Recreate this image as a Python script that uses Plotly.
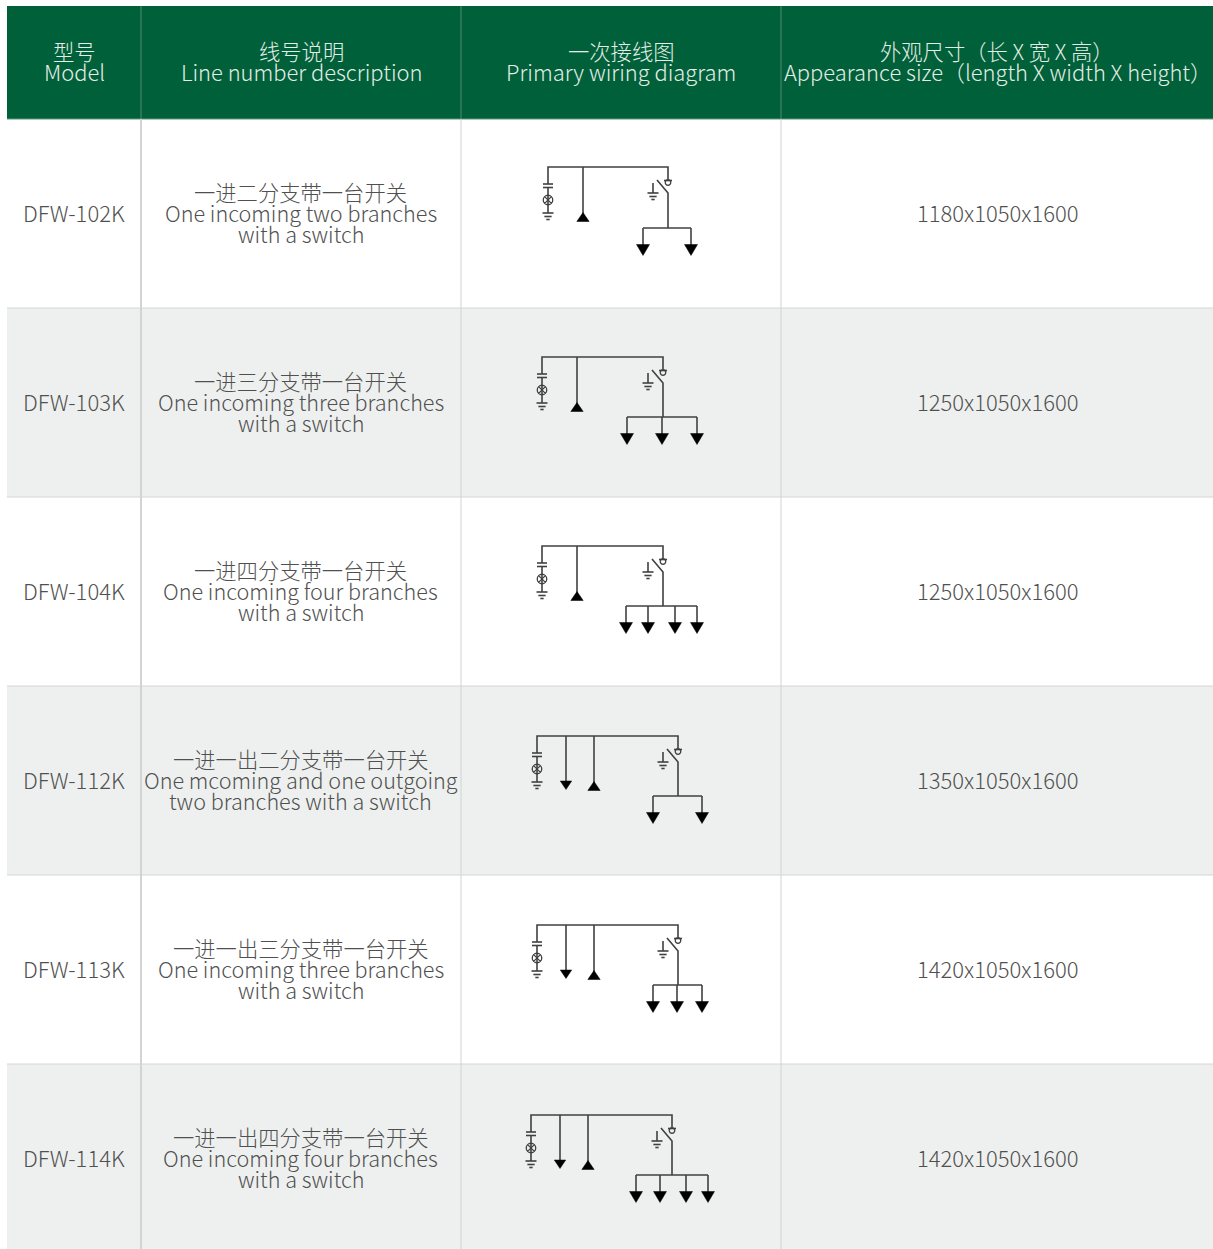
import plotly.graph_objects as go

# ---- table content ----
HEADERS_ZH = ["型号", "线号说明", "一次接线图", "外观尺寸（长 X 宽 X 高）"]
HEADERS_EN = ["Model", "Line number description", "Primary wiring diagram",
              "Appearance size（length X width X height）"]
MODELS = ["DFW-102K", "DFW-103K", "DFW-104K", "DFW-112K", "DFW-113K", "DFW-114K"]
DESC_ZH = ["一进二分支带一台开关", "一进三分支带一台开关", "一进四分支带一台开关",
           "一进一出二分支带一台开关", "一进一出三分支带一台开关", "一进一出四分支带一台开关"]
DESC_EN1 = ["One incoming two branches", "One incoming three branches", "One incoming four branches",
            "One mcoming and one outgoing", "One incoming three branches", "One incoming four branches"]
DESC_EN2 = ["with a switch", "with a switch", "with a switch",
            "two branches with a switch", "with a switch", "with a switch"]
SIZES = ["1180x1050x1600", "1250x1050x1600", "1250x1050x1600",
         "1350x1050x1600", "1420x1050x1600", "1420x1050x1600"]

# ---- wiring diagrams, one entry per row ----
BUS_Y = [167, 357, 546, 736, 925, 1115]
BUS_LEFT = [548, 542, 542, 537, 537, 531]
BUS_RIGHT = [668, 663, 663, 678, 678, 672]
FEED_UP = [583, 577, 577, 594, 594, 588]
FEED_DOWN = [None, None, None, 566, 566, 560]
BRANCH_Y = [228, 417, 606, 796, 985, 1175]
BRANCHES = [[643, 691], [627, 662, 697], [626, 648, 675, 697],
            [653, 702], [653, 677, 702], [636, 660, 686, 708]]

# ---- layout ----
W, H = 1213, 1249
COL_X = [7, 141, 461, 781, 1213]
ROW_Y = [119, 308, 497, 686, 875, 1064, 1249]
ROW_TEXT_Y = [212.5, 401.5, 590.5, 779.5, 968.5, 1157.5]
HEAD_TOP = 6
GREEN, GREY, INK, TEXT = "#006039", "#eef0ef", "#404040", "#505050"
FONT = "Noto Sans CJK SC Light, Noto Sans CJK SC"
FS_EN, FS_BODY, FS_HEAD, FS_ZH = 22, 21.6, 21.9, 21.3

fig = go.Figure()
shapes, ann = [], []

def rect(x0, y0, x1, y1, color):
    shapes.append(dict(type="rect", x0=x0, y0=y0, x1=x1, y1=y1, fillcolor=color,
                       line_width=0, layer="below"))

def rule(x0, y0, x1, y1, color, w=1):
    shapes.append(dict(type="line", x0=x0, y0=y0, x1=x1, y1=y1, line=dict(color=color, width=w), layer="below"))

def label(x, y, s, color=TEXT, size=FS_EN):
    ann.append(dict(x=x, y=y, text=s, showarrow=False, xanchor="center", yanchor="middle",
                    font=dict(family=FONT, size=size, color=color)))

rect(COL_X[0], HEAD_TOP, W, ROW_Y[0], GREEN)
for i in range(6):
    if i % 2 == 1:
        rect(COL_X[0], ROW_Y[i], W, ROW_Y[i + 1], GREY)
for y in ROW_Y[1:-1]:
    rule(COL_X[0], y, W, y, "#d4d6d5", 1)
rule(COL_X[0], ROW_Y[0], W, ROW_Y[0], "#5f9a7e", 1)
for k, x in enumerate(COL_X[1:-1]):
    rule(x, HEAD_TOP, x, ROW_Y[0], "#4f8d70", 1)
    rule(x, ROW_Y[0], x, H, "#d2d3d3", 2 if k == 0 else 1)

# header and body text
for j in range(4):
    cx = (COL_X[j] + COL_X[j + 1]) / 2
    label(cx, 50.5, HEADERS_ZH[j], "#e4eee8", FS_ZH)
    label(cx + (0.5 if j == 3 else 0), 71, HEADERS_EN[j], "#e4eee8", FS_HEAD)
for i in range(6):
    c = ROW_TEXT_Y[i]
    label((COL_X[0] + COL_X[1]) / 2 - 0.5, c - 1, MODELS[i])
    label((COL_X[1] + COL_X[2]) / 2 - 0.5, c - 21, DESC_ZH[i], TEXT, FS_ZH)
    label((COL_X[1] + COL_X[2]) / 2 - 0.5, c - 0.5, DESC_EN1[i], TEXT, FS_BODY)
    label((COL_X[1] + COL_X[2]) / 2 - 0.5, c + 21, DESC_EN2[i], TEXT, FS_BODY)
    label((COL_X[3] + COL_X[4]) / 2 + 0.5, c - 1, SIZES[i])

# wiring diagrams
lx, ly, tx, ty, lampx, lampy, ringx, ringy = [], [], [], [], [], [], [], []

def seg(*pts):
    for p in pts:
        lx.append(p[0]); ly.append(p[1])
    lx.append(None); ly.append(None)

def tri(x, y0, y1, hw):
    tx.extend([x - hw, x + hw, x, x - hw, None])
    ty.extend([y0, y0, y1, y0, None])

def ground(x, y, hw):
    for k, (dy, f) in enumerate([(0, 1), (3.5, 0.66), (6.5, 0.3)]):
        seg((x - hw * f, y + dy), (x + hw * f, y + dy))

for i in range(6):
    b, l, r, u, by = BUS_Y[i], BUS_LEFT[i], BUS_RIGHT[i], FEED_UP[i], BRANCH_Y[i]
    # bus with the capacitor, lamp and earth on its left end
    seg((l, b + 17), (l, b), (r, b), (r, b + 12))
    seg((l - 5, b + 17), (l + 5, b + 17))
    seg((l - 5, b + 20.5), (l + 5, b + 20.5))
    seg((l, b + 20.5), (l, b + 46))
    lampx.append(l); lampy.append(b + 33)
    ground(l, b + 46, 5.5)
    # incoming feed (upward triangle)
    seg((u, b), (u, b + 47))
    tri(u, b + 54.5, b + 45.5, 6.2)
    # optional outgoing feed (downward triangle)
    if FEED_DOWN[i] is not None:
        seg((FEED_DOWN[i], b), (FEED_DOWN[i], b + 45))
        tri(FEED_DOWN[i], b + 45, b + 53.5, 5.7)
    # load switch and earth switch
    seg((r - 11, b + 13), (r, b + 26), (r, by))
    seg((r - 4, b + 13.5), (r + 4, b + 13.5))
    ringx.append(r); ringy.append(b + 15.5)
    seg((r - 15, b + 16), (r - 15, b + 26))
    ground(r - 15, b + 26, 5.5)
    # branches
    xs = BRANCHES[i]
    seg((xs[0], by), (xs[-1], by))
    for x in xs:
        seg((x, by), (x, by + 17))
        tri(x, by + 16.5, by + 27.5, 6.5)

fig.add_trace(go.Scatter(x=lx, y=ly, mode="lines", line=dict(color=INK, width=1.6), hoverinfo="skip", showlegend=False))
fig.add_trace(go.Scatter(x=tx, y=ty, mode="lines", fill="toself", fillcolor="#000000",
                         line=dict(color="#000000", width=0.5), hoverinfo="skip", showlegend=False))
fig.add_trace(go.Scatter(x=lampx, y=lampy, mode="markers", hoverinfo="skip", showlegend=False,
                         marker=dict(symbol="circle-x", size=9.5, color="rgba(255,255,255,0)",
                                     line=dict(color=INK, width=1.3))))
fig.add_trace(go.Scatter(x=ringx, y=ringy, mode="markers", hoverinfo="skip", showlegend=False,
                         marker=dict(symbol="circle-open", size=5.5, color=INK, line=dict(color=INK, width=1.3))))

fig.update_layout(
    width=W, height=H, margin=dict(l=0, r=0, t=0, b=0), paper_bgcolor="white", plot_bgcolor="white",
    shapes=shapes, annotations=ann, showlegend=False,
    xaxis=dict(range=[0, W], visible=False, fixedrange=True),
    yaxis=dict(range=[H, 0], visible=False, fixedrange=True),
)
fig.write_html("out.html", config=dict(displayModeBar=False),
               post_script="document.body.style.margin='0';document.body.style.overflow='hidden';")
